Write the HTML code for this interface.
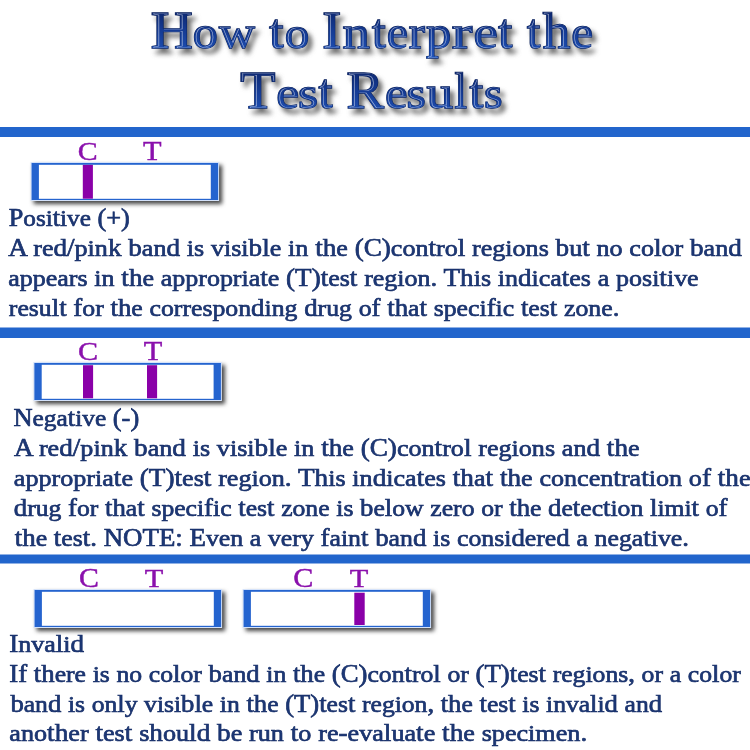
<!DOCTYPE html>
<html><head><meta charset="utf-8">
<style>
html,body{margin:0;padding:0;background:#fff;width:750px;height:750px;overflow:hidden}
svg{display:block}
.t{font-family:"Liberation Serif",serif;}
.title{font-size:53px;font-weight:normal;fill:url(#tg);stroke:url(#tg);stroke-width:0.7}
.tout{font-size:53px;fill:#0b2058;stroke:#0b2058;stroke-width:1.7}
.inl{fill:none;stroke:#fff;stroke-opacity:0.6;stroke-width:0.6}
.lab{font-size:27px;fill:#8a10ac;stroke:#8a10ac;stroke-width:0.45}
.body{font-size:25px;font-weight:normal;fill:#1d3876;stroke:#142c66;stroke-width:0.65}
.xs{font-size:24px}
</style></head>
<body>
<svg width="750" height="750" viewBox="0 0 750 750">
<defs>
<linearGradient id="tg" x1="0" y1="0" x2="0" y2="1">
<stop offset="0" stop-color="#0a1f5e"/>
<stop offset="0.5" stop-color="#153b94"/>
<stop offset="1" stop-color="#2155bc"/>
</linearGradient>
<filter id="ts" x="-10%" y="-30%" width="120%" height="160%" color-interpolation-filters="sRGB">
<feGaussianBlur in="SourceAlpha" stdDeviation="2.4"/>
<feOffset dx="4" dy="5" result="b"/>
<feColorMatrix in="b" type="matrix" values="0 0 0 0 0.25  0 0 0 0 0.25  0 0 0 0 0.25  0 0 0 0.8 0" result="s"/>
<feMerge><feMergeNode in="s"/><feMergeNode in="SourceGraphic"/></feMerge>
</filter>
<filter id="ss" x="-10%" y="-30%" width="130%" height="180%" color-interpolation-filters="sRGB">
<feGaussianBlur in="SourceAlpha" stdDeviation="2"/>
<feOffset dx="3" dy="3" result="b"/>
<feColorMatrix in="b" type="matrix" values="0 0 0 0 0.2  0 0 0 0 0.2  0 0 0 0 0.2  0 0 0 0.92 0" result="s"/>
<feMerge><feMergeNode in="s"/><feMergeNode in="SourceGraphic"/></feMerge>
</filter>
<g id="strip">
<rect x="-1" y="-1" width="188.5" height="39" fill="#d4e2fa"/>
<rect x="0" y="0" width="186.5" height="37" fill="#2564cf"/>
<rect x="7.3" y="1.8" width="171.9" height="34" fill="#fff"/>
</g>
<clipPath id="tclip">
<text class="t title" transform="translate(150.68,48) scale(1.0966,0.9859)">H</text>
<text class="t title" transform="translate(192.82,48) scale(0.9458,0.8738)">o</text>
<text class="t title" transform="translate(218.9,48) scale(0.9392,0.876)">w</text>
<text class="t title" transform="translate(269.24,48) scale(0.9677,0.9115)">t</text>
<text class="t title" transform="translate(284.64,48) scale(0.925,0.85)">o</text>
<text class="t title" transform="translate(322.26,48) scale(1.0754,0.9859)">I</text>
<text class="t title" transform="translate(342.48,48) scale(1.0308,0.8699)">n</text>
<text class="t title" transform="translate(372.03,48) scale(0.929,0.9115)">t</text>
<text class="t title" transform="translate(386.87,48) scale(0.9035,0.8699)">e</text>
<text class="t title" transform="translate(408.77,48) scale(0.9183,0.8699)">r</text>
<text class="t title" transform="translate(426.0,48) scale(0.9505,0.8699)">p</text>
<text class="t title" transform="translate(451.71,48) scale(1.1662,0.8699)">r</text>
<text class="t title" transform="translate(473.41,48) scale(1.0353,0.8699)">e</text>
<text class="t title" transform="translate(498.24,48) scale(0.9484,0.918)">t</text>
<text class="t title" transform="translate(527.12,48) scale(0.8968,0.9279)">t</text>
<text class="t title" transform="translate(542.66,48) scale(1.0355,0.9387)">h</text>
<text class="t title" transform="translate(571.14,48) scale(0.9271,0.8699)">e</text>
<text class="t title" transform="translate(240.33,107.9) scale(1.0844,0.9803)">T</text>
<text class="t title" transform="translate(276.29,107.9) scale(0.9694,0.85)">e</text>
<text class="t title" transform="translate(298.03,107.9) scale(0.9778,0.85)">s</text>
<text class="t title" transform="translate(318.54,107.9) scale(0.9484,0.8984)">t</text>
<text class="t title" transform="translate(346.41,107.9) scale(1.0553,0.9831)">R</text>
<text class="t title" transform="translate(385.0,107.9) scale(0.96,0.85)">e</text>
<text class="t title" transform="translate(406.39,107.9) scale(0.9389,0.85)">s</text>
<text class="t title" transform="translate(426.6,107.9) scale(1.0057,0.868)">u</text>
<text class="t title" transform="translate(454.59,107.9) scale(0.8421,0.936)">l</text>
<text class="t title" transform="translate(469.43,107.9) scale(0.929,0.9148)">t</text>
<text class="t title" transform="translate(484.05,107.9) scale(0.9,0.8505)">s</text>
</clipPath>
</defs>

<!-- title -->
<g class="t" filter="url(#ts)">
<text class="tout" transform="translate(150.68,48) scale(1.0966,0.9859)">H</text>
<text class="tout" transform="translate(192.82,48) scale(0.9458,0.8738)">o</text>
<text class="tout" transform="translate(218.9,48) scale(0.9392,0.876)">w</text>
<text class="tout" transform="translate(269.24,48) scale(0.9677,0.9115)">t</text>
<text class="tout" transform="translate(284.64,48) scale(0.925,0.85)">o</text>
<text class="tout" transform="translate(322.26,48) scale(1.0754,0.9859)">I</text>
<text class="tout" transform="translate(342.48,48) scale(1.0308,0.8699)">n</text>
<text class="tout" transform="translate(372.03,48) scale(0.929,0.9115)">t</text>
<text class="tout" transform="translate(386.87,48) scale(0.9035,0.8699)">e</text>
<text class="tout" transform="translate(408.77,48) scale(0.9183,0.8699)">r</text>
<text class="tout" transform="translate(426.0,48) scale(0.9505,0.8699)">p</text>
<text class="tout" transform="translate(451.71,48) scale(1.1662,0.8699)">r</text>
<text class="tout" transform="translate(473.41,48) scale(1.0353,0.8699)">e</text>
<text class="tout" transform="translate(498.24,48) scale(0.9484,0.918)">t</text>
<text class="tout" transform="translate(527.12,48) scale(0.8968,0.9279)">t</text>
<text class="tout" transform="translate(542.66,48) scale(1.0355,0.9387)">h</text>
<text class="tout" transform="translate(571.14,48) scale(0.9271,0.8699)">e</text>
<text class="tout" transform="translate(240.33,107.9) scale(1.0844,0.9803)">T</text>
<text class="tout" transform="translate(276.29,107.9) scale(0.9694,0.85)">e</text>
<text class="tout" transform="translate(298.03,107.9) scale(0.9778,0.85)">s</text>
<text class="tout" transform="translate(318.54,107.9) scale(0.9484,0.8984)">t</text>
<text class="tout" transform="translate(346.41,107.9) scale(1.0553,0.9831)">R</text>
<text class="tout" transform="translate(385.0,107.9) scale(0.96,0.85)">e</text>
<text class="tout" transform="translate(406.39,107.9) scale(0.9389,0.85)">s</text>
<text class="tout" transform="translate(426.6,107.9) scale(1.0057,0.868)">u</text>
<text class="tout" transform="translate(454.59,107.9) scale(0.8421,0.936)">l</text>
<text class="tout" transform="translate(469.43,107.9) scale(0.929,0.9148)">t</text>
<text class="tout" transform="translate(484.05,107.9) scale(0.9,0.8505)">s</text>
</g>
<g class="t">
<text class="title" transform="translate(150.68,48) scale(1.0966,0.9859)">H</text>
<text class="title" transform="translate(192.82,48) scale(0.9458,0.8738)">o</text>
<text class="title" transform="translate(218.9,48) scale(0.9392,0.876)">w</text>
<text class="title" transform="translate(269.24,48) scale(0.9677,0.9115)">t</text>
<text class="title" transform="translate(284.64,48) scale(0.925,0.85)">o</text>
<text class="title" transform="translate(322.26,48) scale(1.0754,0.9859)">I</text>
<text class="title" transform="translate(342.48,48) scale(1.0308,0.8699)">n</text>
<text class="title" transform="translate(372.03,48) scale(0.929,0.9115)">t</text>
<text class="title" transform="translate(386.87,48) scale(0.9035,0.8699)">e</text>
<text class="title" transform="translate(408.77,48) scale(0.9183,0.8699)">r</text>
<text class="title" transform="translate(426.0,48) scale(0.9505,0.8699)">p</text>
<text class="title" transform="translate(451.71,48) scale(1.1662,0.8699)">r</text>
<text class="title" transform="translate(473.41,48) scale(1.0353,0.8699)">e</text>
<text class="title" transform="translate(498.24,48) scale(0.9484,0.918)">t</text>
<text class="title" transform="translate(527.12,48) scale(0.8968,0.9279)">t</text>
<text class="title" transform="translate(542.66,48) scale(1.0355,0.9387)">h</text>
<text class="title" transform="translate(571.14,48) scale(0.9271,0.8699)">e</text>
<text class="title" transform="translate(240.33,107.9) scale(1.0844,0.9803)">T</text>
<text class="title" transform="translate(276.29,107.9) scale(0.9694,0.85)">e</text>
<text class="title" transform="translate(298.03,107.9) scale(0.9778,0.85)">s</text>
<text class="title" transform="translate(318.54,107.9) scale(0.9484,0.8984)">t</text>
<text class="title" transform="translate(346.41,107.9) scale(1.0553,0.9831)">R</text>
<text class="title" transform="translate(385.0,107.9) scale(0.96,0.85)">e</text>
<text class="title" transform="translate(406.39,107.9) scale(0.9389,0.85)">s</text>
<text class="title" transform="translate(426.6,107.9) scale(1.0057,0.868)">u</text>
<text class="title" transform="translate(454.59,107.9) scale(0.8421,0.936)">l</text>
<text class="title" transform="translate(469.43,107.9) scale(0.929,0.9148)">t</text>
<text class="title" transform="translate(484.05,107.9) scale(0.9,0.8505)">s</text>
</g>
<g class="t" clip-path="url(#tclip)">
<g transform="translate(1.5,0.2)">
<text class="title inl" transform="translate(150.68,48) scale(1.0966,0.9859)">H</text>
<text class="title inl" transform="translate(192.82,48) scale(0.9458,0.8738)">o</text>
<text class="title inl" transform="translate(218.9,48) scale(0.9392,0.876)">w</text>
<text class="title inl" transform="translate(269.24,48) scale(0.9677,0.9115)">t</text>
<text class="title inl" transform="translate(284.64,48) scale(0.925,0.85)">o</text>
<text class="title inl" transform="translate(322.26,48) scale(1.0754,0.9859)">I</text>
<text class="title inl" transform="translate(342.48,48) scale(1.0308,0.8699)">n</text>
<text class="title inl" transform="translate(372.03,48) scale(0.929,0.9115)">t</text>
<text class="title inl" transform="translate(386.87,48) scale(0.9035,0.8699)">e</text>
<text class="title inl" transform="translate(408.77,48) scale(0.9183,0.8699)">r</text>
<text class="title inl" transform="translate(426.0,48) scale(0.9505,0.8699)">p</text>
<text class="title inl" transform="translate(451.71,48) scale(1.1662,0.8699)">r</text>
<text class="title inl" transform="translate(473.41,48) scale(1.0353,0.8699)">e</text>
<text class="title inl" transform="translate(498.24,48) scale(0.9484,0.918)">t</text>
<text class="title inl" transform="translate(527.12,48) scale(0.8968,0.9279)">t</text>
<text class="title inl" transform="translate(542.66,48) scale(1.0355,0.9387)">h</text>
<text class="title inl" transform="translate(571.14,48) scale(0.9271,0.8699)">e</text>
<text class="title inl" transform="translate(240.33,107.9) scale(1.0844,0.9803)">T</text>
<text class="title inl" transform="translate(276.29,107.9) scale(0.9694,0.85)">e</text>
<text class="title inl" transform="translate(298.03,107.9) scale(0.9778,0.85)">s</text>
<text class="title inl" transform="translate(318.54,107.9) scale(0.9484,0.8984)">t</text>
<text class="title inl" transform="translate(346.41,107.9) scale(1.0553,0.9831)">R</text>
<text class="title inl" transform="translate(385.0,107.9) scale(0.96,0.85)">e</text>
<text class="title inl" transform="translate(406.39,107.9) scale(0.9389,0.85)">s</text>
<text class="title inl" transform="translate(426.6,107.9) scale(1.0057,0.868)">u</text>
<text class="title inl" transform="translate(454.59,107.9) scale(0.8421,0.936)">l</text>
<text class="title inl" transform="translate(469.43,107.9) scale(0.929,0.9148)">t</text>
<text class="title inl" transform="translate(484.05,107.9) scale(0.9,0.8505)">s</text>
</g>
</g>

<!-- bars -->
<rect x="0" y="127" width="750" height="10" fill="#2265cc"/>
<rect x="0" y="327.5" width="750" height="10.5" fill="#2265cc"/>
<rect x="0" y="554.5" width="750" height="9" fill="#2265cc"/>

<!-- strips -->
<g filter="url(#ss)"><use href="#strip" x="31.6" y="163"/></g>
<rect x="82.8" y="164.9" width="10.1" height="33.8" fill="#8a00a8"/>
<g filter="url(#ss)"><use href="#strip" x="34.4" y="363"/></g>
<rect x="83" y="365.2" width="10.1" height="33.1" fill="#8a00a8"/>
<rect x="147" y="365.2" width="10.1" height="33.1" fill="#8a00a8"/>
<g filter="url(#ss)"><use href="#strip" x="34.6" y="590"/><use href="#strip" x="243.6" y="590"/></g>
<rect x="354.3" y="592.7" width="10.4" height="32.3" fill="#8a00a8"/>

<!-- labels -->
<g class="t lab">
<text transform="translate(77.80,160.02) scale(1.105,0.962)">C</text>
<text transform="translate(143.12,159.56) scale(1.125,0.978)">T</text>
<text transform="translate(77.88,359.62) scale(1.117,0.968)">C</text>
<text transform="translate(143.72,359.75) scale(1.125,1.000)">T</text>
<text transform="translate(79.10,587.29) scale(1.105,1.016)">C</text>
<text transform="translate(144.72,586.76) scale(1.125,0.967)">T</text>
<text transform="translate(293.28,587.11) scale(1.117,0.973)">C</text>
<text transform="translate(349.72,586.56) scale(1.125,0.956)">T</text>
</g>

<!-- body text -->
<g class="t body">
<text x="8.78" y="226.4" textLength="120.96" lengthAdjust="spacingAndGlyphs">P<tspan class="xs">osi</tspan>t<tspan class="xs">ive</tspan> (+)</text>
<text x="8.3" y="256" textLength="733.48" lengthAdjust="spacingAndGlyphs">A <tspan class="xs">re</tspan>d/<tspan class="xs">pin</tspan>k b<tspan class="xs">an</tspan>d <tspan class="xs">is</tspan> <tspan class="xs">visi</tspan>bl<tspan class="xs">e</tspan> <tspan class="xs">in</tspan> th<tspan class="xs">e</tspan> (C)<tspan class="xs">con</tspan>t<tspan class="xs">ro</tspan>l <tspan class="xs">regions</tspan> b<tspan class="xs">u</tspan>t <tspan class="xs">no</tspan> <tspan class="xs">co</tspan>l<tspan class="xs">or</tspan> b<tspan class="xs">an</tspan>d</text>
<text x="8.26" y="285.8" textLength="690.4" lengthAdjust="spacingAndGlyphs"><tspan class="xs">appears</tspan> <tspan class="xs">in</tspan> th<tspan class="xs">e</tspan> <tspan class="xs">appropria</tspan>t<tspan class="xs">e</tspan> (T)t<tspan class="xs">es</tspan>t <tspan class="xs">region</tspan>. Th<tspan class="xs">is</tspan> <tspan class="xs">in</tspan>d<tspan class="xs">ica</tspan>t<tspan class="xs">es</tspan> <tspan class="xs">a</tspan> <tspan class="xs">posi</tspan>t<tspan class="xs">ive</tspan></text>
<text x="8.8" y="316" textLength="610.59" lengthAdjust="spacingAndGlyphs"><tspan class="xs">resu</tspan>lt f<tspan class="xs">or</tspan> th<tspan class="xs">e</tspan> <tspan class="xs">correspon</tspan>d<tspan class="xs">ing</tspan> d<tspan class="xs">rug</tspan> <tspan class="xs">o</tspan>f th<tspan class="xs">a</tspan>t <tspan class="xs">speci</tspan>f<tspan class="xs">ic</tspan> t<tspan class="xs">es</tspan>t <tspan class="xs">zone</tspan>.</text>
<text x="13.47" y="426" textLength="125.77" lengthAdjust="spacingAndGlyphs">N<tspan class="xs">ega</tspan>t<tspan class="xs">ive</tspan> (-)</text>
<text x="14.0" y="456" textLength="625.58" lengthAdjust="spacingAndGlyphs">A <tspan class="xs">re</tspan>d/<tspan class="xs">pin</tspan>k b<tspan class="xs">an</tspan>d <tspan class="xs">is</tspan> <tspan class="xs">visi</tspan>bl<tspan class="xs">e</tspan> <tspan class="xs">in</tspan> th<tspan class="xs">e</tspan> (C)<tspan class="xs">con</tspan>t<tspan class="xs">ro</tspan>l <tspan class="xs">regions</tspan> <tspan class="xs">an</tspan>d th<tspan class="xs">e</tspan></text>
<text x="13.86" y="486" textLength="736.67" lengthAdjust="spacingAndGlyphs"><tspan class="xs">appropria</tspan>t<tspan class="xs">e</tspan> (T)t<tspan class="xs">es</tspan>t <tspan class="xs">region</tspan>. Th<tspan class="xs">is</tspan> <tspan class="xs">in</tspan>d<tspan class="xs">ica</tspan>t<tspan class="xs">es</tspan> th<tspan class="xs">a</tspan>t th<tspan class="xs">e</tspan> <tspan class="xs">concen</tspan>t<tspan class="xs">ra</tspan>t<tspan class="xs">ion</tspan> <tspan class="xs">o</tspan>f th<tspan class="xs">e</tspan></text>
<text x="13.87" y="516" textLength="713.6" lengthAdjust="spacingAndGlyphs">d<tspan class="xs">rug</tspan> f<tspan class="xs">or</tspan> th<tspan class="xs">a</tspan>t <tspan class="xs">speci</tspan>f<tspan class="xs">ic</tspan> t<tspan class="xs">es</tspan>t <tspan class="xs">zone</tspan> <tspan class="xs">is</tspan> b<tspan class="xs">e</tspan>l<tspan class="xs">ow</tspan> <tspan class="xs">zero</tspan> <tspan class="xs">or</tspan> th<tspan class="xs">e</tspan> d<tspan class="xs">e</tspan>t<tspan class="xs">ec</tspan>t<tspan class="xs">ion</tspan> l<tspan class="xs">imi</tspan>t <tspan class="xs">o</tspan>f</text>
<text x="14.8" y="546" textLength="674.19" lengthAdjust="spacingAndGlyphs">th<tspan class="xs">e</tspan> t<tspan class="xs">es</tspan>t. NOTE: E<tspan class="xs">ven</tspan> <tspan class="xs">a</tspan> <tspan class="xs">very</tspan> f<tspan class="xs">ain</tspan>t b<tspan class="xs">an</tspan>d <tspan class="xs">is</tspan> <tspan class="xs">consi</tspan>d<tspan class="xs">ere</tspan>d <tspan class="xs">a</tspan> <tspan class="xs">nega</tspan>t<tspan class="xs">ive</tspan>.</text>
<text x="9.36" y="651.7" textLength="74.76" lengthAdjust="spacingAndGlyphs">I<tspan class="xs">nva</tspan>l<tspan class="xs">i</tspan>d</text>
<text x="9.37" y="681.7" textLength="731.48" lengthAdjust="spacingAndGlyphs">If th<tspan class="xs">ere</tspan> <tspan class="xs">is</tspan> <tspan class="xs">no</tspan> <tspan class="xs">co</tspan>l<tspan class="xs">or</tspan> b<tspan class="xs">an</tspan>d <tspan class="xs">in</tspan> th<tspan class="xs">e</tspan> (C)<tspan class="xs">con</tspan>t<tspan class="xs">ro</tspan>l <tspan class="xs">or</tspan> (T)t<tspan class="xs">es</tspan>t <tspan class="xs">regions</tspan>, <tspan class="xs">or</tspan> <tspan class="xs">a</tspan> <tspan class="xs">co</tspan>l<tspan class="xs">or</tspan></text>
<text x="10.43" y="711.5" textLength="651.68" lengthAdjust="spacingAndGlyphs">b<tspan class="xs">an</tspan>d <tspan class="xs">is</tspan> <tspan class="xs">on</tspan>l<tspan class="xs">y</tspan> <tspan class="xs">visi</tspan>bl<tspan class="xs">e</tspan> <tspan class="xs">in</tspan> th<tspan class="xs">e</tspan> (T)t<tspan class="xs">es</tspan>t <tspan class="xs">region</tspan>, th<tspan class="xs">e</tspan> t<tspan class="xs">es</tspan>t <tspan class="xs">is</tspan> <tspan class="xs">inva</tspan>l<tspan class="xs">i</tspan>d <tspan class="xs">an</tspan>d</text>
<text x="9.36" y="741.4" textLength="577.84" lengthAdjust="spacingAndGlyphs"><tspan class="xs">ano</tspan>th<tspan class="xs">er</tspan> t<tspan class="xs">es</tspan>t <tspan class="xs">s</tspan>h<tspan class="xs">ou</tspan>ld b<tspan class="xs">e</tspan> <tspan class="xs">run</tspan> t<tspan class="xs">o</tspan> <tspan class="xs">re</tspan>-<tspan class="xs">eva</tspan>l<tspan class="xs">ua</tspan>t<tspan class="xs">e</tspan> th<tspan class="xs">e</tspan> <tspan class="xs">specimen</tspan>.</text>
</g>
</svg>
</body></html>
